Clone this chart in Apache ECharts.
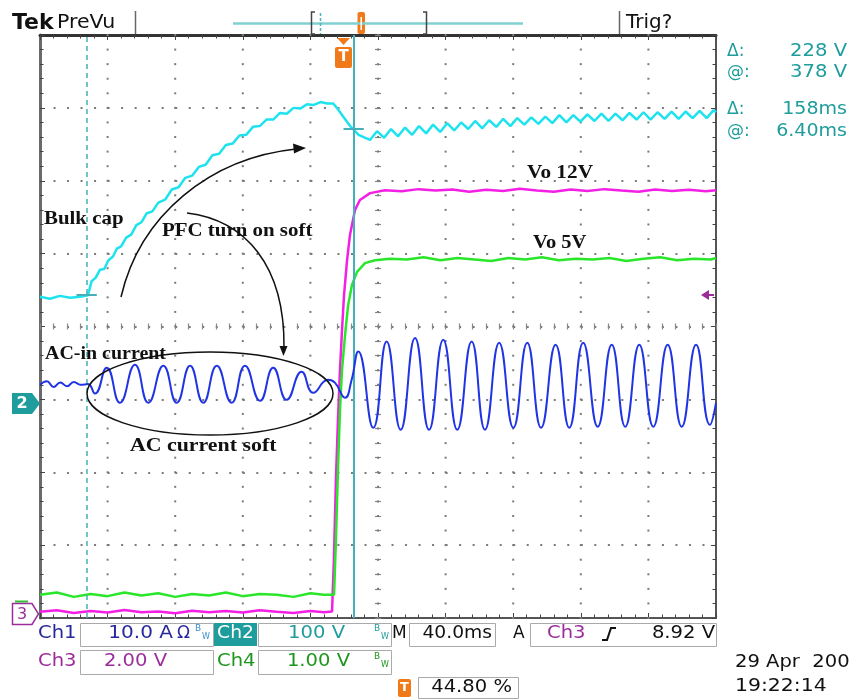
<!DOCTYPE html>
<html><head><meta charset="utf-8">
<script src="https://cdn.jsdelivr.net/npm/echarts@6/dist/echarts.min.js"></script>
<style>html,body{margin:0;padding:0;background:#fff}#c{width:857px;height:700px}</style>
</head><body><div id="c"></div>
<script>
// ---------- DATA (time in ms from left edge of screen, 40 ms/div) ----------
// Ch2: Bulk cap voltage (V), 100 V/div
const bulkT = [0, 5.9, 11.8, 17.8, 23.7, 28.4,
  30.5, 33.0, 35.5, 38.0, 40.5, 43.2, 45.5, 48.0, 51.0, 54.0, 57.0, 60.0, 63.0, 66.5, 70.0, 74.0, 78.0, 82.0, 86.0, 90.0,
  94.0, 98.0, 102.0, 106.0, 110.0, 114.0, 118.0, 122.0, 126.0, 130.0, 134.0, 138.0, 142.0, 146.0, 150.0, 154.0, 158.0,
  162.0, 166.0, 170.0, 173.5, 176.0, 178.5, 181.0, 183.5, 186.0, 188.5, 191.5,
  195.3, 199.4, 203.6, 207.7, 211.9, 216.0, 220.2, 224.3, 228.5, 232.6, 236.8, 240.9, 245.1, 249.2, 253.4, 257.5,
  261.7, 265.8, 270.0, 274.1, 278.3, 282.4, 286.6, 290.7, 294.9, 299.0, 303.2, 307.3, 311.5, 315.6, 319.8, 323.9,
  328.1, 332.2, 336.4, 340.5, 344.7, 348.8, 353.0, 357.1, 361.3, 365.4, 369.6, 373.7, 377.9, 382.0, 386.2, 390.3,
  394.5, 398.6, 400];
const bulkV = [146.8, 144.0, 148.0, 145.4, 146.8, 149.0,
  168, 173, 184, 185, 197, 202, 213, 216, 228, 232, 245, 249, 261, 264, 276, 280, 294, 297, 310, 313,
  325, 328, 341, 343, 355, 357, 368, 369, 380, 381, 390, 390, 399, 398, 406, 405, 411,
  410, 414, 412, 412, 405, 397, 389, 381, 375, 369, 366,
  362, 374, 365, 377, 367, 379, 369, 381, 371, 383, 373, 385, 375, 386, 377, 388,
  378, 389, 380, 391, 381, 392, 383, 393, 384, 394, 385, 396, 386, 396, 387, 397,
  388, 398, 388, 398, 389, 399, 390, 400, 390, 400, 391, 401, 391, 401, 392, 402,
  392, 403, 400];
// Ch1: AC input current (A), 10 A/div
const curT = [0, 4, 8, 12, 16, 20, 24, 28.4, 32.5, 39.5, 47.3, 56.2, 64.1, 73.0, 80.9, 88.8, 96.6, 104.6, 113.4,
  121.3, 130.2, 138.0, 146.0, 154.8, 161.7, 170.4, 174.5, 180.5, 184.3, 188.3, 197.2, 205.1, 213.4, 221.9, 230.2,
  238.6, 246.9, 255.4, 263.3, 271.7, 280.1, 288.3, 296.5, 305.1, 313.2, 321.4, 330.0, 338.3, 346.3, 354.6, 362.9,
  371.4, 379.7, 388.2, 396.4, 400];
const curA = [0.0, 0.5, -0.3, 0.3, -0.2, 0.4, 0.0, 0.1, -1.2, 2.33, -2.47, 2.74, -2.47, 2.61, -2.47, 2.61, -2.47, 2.61, -2.47,
  2.61, -2.19, 2.33, -2.06, 1.78, -1.10, 0.69, 0.3, -1.78, 0.6, 4.57, -5.90, 5.94, -6.17, 6.41, -6.17,
  6.17, -6.17, 5.94, -6.17, 5.76, -5.90, 5.76, -5.90, 5.49, -5.90, 5.76, -5.76, 5.49, -5.76, 5.49, -5.76,
  5.49, -5.76, 5.49, -5.49, -2.5];
// Ch3: Vo 12V (V), 2 V/div
const vo12T = [0, 10, 20, 30, 40, 50, 60, 70, 80, 90, 100, 110, 120, 130, 140, 150, 160, 168,
  172.8, 173.9, 175.1, 176.3, 177.5, 178.7, 179.9, 181.7, 183.4, 186.4, 189.3, 195.3, 204.1,
  214, 224, 234, 244, 254, 264, 274, 284, 294, 304, 314, 324, 334, 344, 354, 364, 374, 384, 394, 400];
const vo12V = [0.07, 0.11, 0.04, 0.09, 0.05, 0.12, 0.06, 0.08, 0.03, 0.10, 0.06, 0.09, 0.05, 0.11, 0.07, 0.04, 0.09, 0.06,
  0.08, 1.49, 3.69, 5.33, 6.71, 7.80, 8.76, 9.72, 10.41, 11.10, 11.37, 11.56, 11.64,
  11.61, 11.67, 11.63, 11.66, 11.60, 11.65, 11.62, 11.68, 11.63, 11.60, 11.66, 11.62, 11.67, 11.63, 11.60, 11.66, 11.62, 11.65, 11.61, 11.64];
// Ch4: Vo 5V (V), 1 V/div
const vo5T = [0, 10, 20, 30, 40, 50, 60, 70, 80, 90, 100, 110, 120, 130, 140, 150, 160, 168,
  174.0, 175.1, 176.3, 177.5, 178.7, 180.5, 182.3, 184.6, 187.6, 192.3, 198.2, 207.1,
  217, 227, 237, 247, 257, 267, 277, 287, 297, 307, 317, 327, 337, 347, 357, 367, 377, 387, 397, 400];
const vo5V = [0.02, 0.05, -0.01, 0.03, 0.00, 0.05, 0.01, 0.04, -0.01, 0.03, 0.01, 0.05, 0.00, 0.03, 0.02, -0.01, 0.04, 0.02,
  0.02, 0.77, 1.73, 2.55, 3.10, 3.58, 3.99, 4.27, 4.45, 4.57, 4.61, 4.63,
  4.62, 4.65, 4.61, 4.64, 4.62, 4.60, 4.64, 4.62, 4.65, 4.61, 4.63, 4.62, 4.64, 4.60, 4.63, 4.65, 4.61, 4.63, 4.62, 4.64];
// Cursors
const cursorT = [27.6, 185.6];   // ms (Δ 158 ms, @ 6.40 ms after trigger)
const cursorV = [150, 378];      // V  (Δ 228 V, @ 378 V)
// Graticule: vertical division lines (ms) and minor-division step (div)
const divT = [40, 80, 120, 160, 200, 240, 280, 320, 360];
const minorDiv = 0.2;
// Readouts
const readouts = ['228 V', '378 V', '158ms', '6.40ms'];
const annotations = ['Bulk cap', 'PFC turn on soft', 'AC-in current', 'AC current soft', 'Vo 12V', 'Vo 5V'];

// ---------- CHART ----------
const zip = (a, b) => a.map((v, i) => [v, b[i]]);
const TEAL = '#1f9c9c', ORANGE = '#f07a1a', MAG = '#9b2d9b', NAVY = '#27279c', GRN = '#1e961e';
const FONT = 'DejaVu Sans', SERIF = 'Liberation Serif';
function tx(x, y, text, o) {
  o = o || {};
  return { type: 'text', x: x, y: y, scaleX: o.sx || 1, z: 100, silent: true,
    style: { text: text, fill: o.c || '#111', fontSize: o.fs || 17, fontFamily: o.ff || FONT,
      fontWeight: o.fw || 'normal', align: o.al || 'left', verticalAlign: 'middle' } };
}
function ln(x1, y1, x2, y2, c, w, dash) {
  return { type: 'line', z: 100, silent: true, shape: { x1, y1, x2, y2 },
    style: { stroke: c, lineWidth: w || 1.5, lineDash: dash || null } };
}
function box(x, y, w, h, o) {
  o = o || {};
  return { type: 'rect', z: o.z || 99, silent: true, shape: { x, y, width: w, height: h, r: o.r || 0 },
    style: { fill: o.fill || 'none', stroke: o.stroke || null, lineWidth: o.lw || 1 } };
}
const tickStyle = { color: '#444', width: 1 };
function xa(extra) {
  return Object.assign({ type: 'value', min: 0, max: 400, interval: 40,
    axisLabel: { show: false }, splitLine: { show: false }, axisTick: { show: false },
    axisLine: { show: false, onZero: false } }, extra);
}
function ya(extra) {
  return Object.assign({ type: 'value', min: 0, max: 8, interval: 1,
    axisLabel: { show: false }, splitLine: { show: false }, axisTick: { show: false },
    axisLine: { show: false, onZero: false } }, extra);
}

const graphics = [
  // header
  tx(12, 23, 'Tek', { fs: 22, fw: 'bold' }),
  tx(57, 23, 'PreVu', { fs: 19, sx: 1.08 }),
  ln(135.5, 11, 135.5, 34, '#666', 1.5),
  ln(233, 23.5, 523, 23.5, '#80d0d0', 2.5),
  { type: 'polyline', z: 100, silent: true, shape: { points: [[315, 12], [311.5, 12], [311.5, 34], [315, 34]] }, style: { stroke: '#444', lineWidth: 1.5, fill: 'none' } },
  { type: 'polyline', z: 100, silent: true, shape: { points: [[423, 12], [426.5, 12], [426.5, 34], [423, 34]] }, style: { stroke: '#444', lineWidth: 1.5, fill: 'none' } },
  ln(320.5, 13, 320.5, 34, '#4ab3bd', 1.5, [3, 2]),
  box(357.5, 12, 7.5, 22, { fill: ORANGE, r: 2 }),
  ln(361.2, 17, 361.2, 30, '#fff', 1.5),
  ln(619.5, 11, 619.5, 34, '#666', 1.5),
  tx(626, 23, 'Trig?', { fs: 19, sx: 1.05 }),
  // right readouts
  tx(727, 52, 'Δ:', { c: TEAL }), tx(847, 52, readouts[0], { c: TEAL, al: 'right', sx: 1.15 }),
  tx(727, 73, '@:', { c: TEAL }), tx(847, 73, readouts[1], { c: TEAL, al: 'right', sx: 1.15 }),
  tx(727, 110, 'Δ:', { c: TEAL }), tx(847, 110, readouts[2], { c: TEAL, al: 'right', sx: 1.12 }),
  tx(727, 132, '@:', { c: TEAL }), tx(847, 132, readouts[3], { c: TEAL, al: 'right', sx: 1.12 }),
  // trigger position marker
  { type: 'polygon', z: 100, silent: true, shape: { points: [[337, 38], [350, 38], [343.5, 45]] }, style: { fill: ORANGE } },
  box(335, 47, 17, 21, { fill: ORANGE, r: 2 }),
  tx(343.5, 57.5, 'T', { fs: 15, fw: 'bold', c: '#fff', al: 'center' }),
  // ground markers
  { type: 'polygon', z: 100, silent: true, shape: { points: [[12, 393], [32, 393], [40, 403.5], [32, 414], [12, 414]] }, style: { fill: TEAL } },
  tx(22, 404, '2', { fs: 16, fw: 'bold', c: '#fff', al: 'center' }),
  ln(15, 601.5, 28, 601.5, '#2fbf2f', 2),
  { type: 'polygon', z: 100, silent: true, shape: { points: [[12.5, 603.5], [32, 603.5], [38.5, 614], [32, 624.5], [12.5, 624.5]] }, style: { fill: '#fff', stroke: MAG, lineWidth: 1.5 } },
  tx(22, 614.5, '3', { fs: 16, c: MAG, al: 'center' }),
  // trigger level arrow
  { type: 'polygon', z: 100, silent: true, shape: { points: [[701, 295], [709, 290], [709, 300]] }, style: { fill: MAG } },
  ln(708, 295, 714, 295, MAG, 2),
  // annotations
  tx(44, 219, annotations[0], { ff: SERIF, fw: 'bold', fs: 19, sx: 1.1 }),
  tx(162, 231, annotations[1], { ff: SERIF, fw: 'bold', fs: 19, sx: 1.1 }),
  tx(45, 354, annotations[2], { ff: SERIF, fw: 'bold', fs: 19, sx: 1.05 }),
  tx(130, 446, annotations[3], { ff: SERIF, fw: 'bold', fs: 19, sx: 1.15 }),
  tx(527, 173, annotations[4], { ff: SERIF, fw: 'bold', fs: 19, sx: 1.12 }),
  tx(533, 243, annotations[5], { ff: SERIF, fw: 'bold', fs: 19, sx: 1.08 }),
  { type: 'bezierCurve', z: 100, silent: true, shape: { x1: 121, y1: 297, cpx1: 140, cpy1: 215, cpx2: 210, cpy2: 158, x2: 296, y2: 149 }, style: { stroke: '#111', lineWidth: 1.5, fill: 'none' } },
  { type: 'polygon', z: 100, silent: true, shape: { points: [[306, 148], [293, 143.5], [294, 153.5]] }, style: { fill: '#111' } },
  { type: 'bezierCurve', z: 100, silent: true, shape: { x1: 187, y1: 213, cpx1: 245, cpy1: 220, cpx2: 285, cpy2: 265, x2: 284, y2: 348 }, style: { stroke: '#111', lineWidth: 1.5, fill: 'none' } },
  { type: 'polygon', z: 100, silent: true, shape: { points: [[283.5, 356], [279.5, 346], [287.5, 346]] }, style: { fill: '#111' } },
  { type: 'ellipse', z: 100, silent: true, shape: { cx: 210, cy: 393.5, rx: 123, ry: 41.5 }, style: { stroke: '#111', lineWidth: 1.5, fill: 'none' } },
  // bottom readouts row 1
  tx(38, 634, 'Ch1', { c: NAVY, sx: 1.15 }),
  box(80.5, 623.5, 133, 23, { stroke: '#aaa' }),
  tx(173, 634, '10.0 A', { c: NAVY, al: 'right', sx: 1.18 }),
  tx(177, 634, 'Ω', { c: NAVY }),
  tx(195, 629, 'B', { c: '#3a8fd0', fs: 9 }), tx(202, 637, 'W', { c: '#3a8fd0', fs: 8 }),
  box(214, 623, 43, 23, { fill: TEAL }),
  tx(235.5, 634, 'Ch2', { c: '#fff', al: 'center', sx: 1.1 }),
  box(258.5, 623.5, 133, 23, { stroke: '#aaa' }),
  tx(345, 634, '100 V', { c: TEAL, al: 'right', sx: 1.15 }),
  tx(374, 629, 'B', { c: TEAL, fs: 9 }), tx(381, 637, 'W', { c: TEAL, fs: 8 }),
  tx(392, 634, 'M', { c: '#111' }),
  box(409.5, 623.5, 86, 23, { stroke: '#aaa' }),
  tx(492, 634, '40.0ms', { al: 'right', sx: 1.1 }),
  tx(513, 634, 'A', { c: '#111' }),
  box(530.5, 623.5, 186, 23, { stroke: '#aaa' }),
  tx(547, 634, 'Ch3', { c: MAG, sx: 1.15 }),
  { type: 'polyline', z: 100, silent: true, shape: { points: [[602, 640], [607, 640], [611, 628], [616, 628]] }, style: { stroke: '#111', lineWidth: 2, fill: 'none' } },
  tx(715, 634, '8.92 V', { al: 'right', sx: 1.15 }),
  // row 2
  tx(38, 662, 'Ch3', { c: MAG, sx: 1.15 }),
  box(80.5, 650.5, 133, 24, { stroke: '#aaa' }),
  tx(167, 662, '2.00 V', { c: MAG, al: 'right', sx: 1.15 }),
  tx(217, 662, 'Ch4', { c: GRN, sx: 1.15 }),
  box(258.5, 650.5, 133, 24, { stroke: '#aaa' }),
  tx(350, 662, '1.00 V', { c: GRN, al: 'right', sx: 1.15 }),
  tx(374, 657, 'B', { c: GRN, fs: 9 }), tx(381, 665, 'W', { c: GRN, fs: 8 }),
  // row 3
  box(398, 679, 13, 18, { fill: ORANGE, r: 2 }),
  tx(404.5, 688, 'T', { fs: 13, fw: 'bold', c: '#fff', al: 'center' }),
  box(418.5, 677.5, 100, 21, { stroke: '#aaa' }),
  tx(512, 688, '44.80 %', { al: 'right', sx: 1.15 }),
  tx(735, 663, '29 Apr  200', { sx: 1.15 }),
  tx(735, 687, '19:22:14', { sx: 1.2 })
];

const option = {
  animation: false,
  backgroundColor: '#fff',
  grid: { left: 40, top: 35, width: 676, height: 583, containLabel: false, outerBoundsMode: 'none', show: false },
  xAxis: [
    xa({ position: 'bottom', axisLine: { show: true, onZero: false, lineStyle: { color: '#555', width: 2 } },
      axisTick: { show: true, inside: true, length: 5, lineStyle: tickStyle },
      minorTick: { show: true, splitNumber: 5, length: 3.5, lineStyle: tickStyle } }),
    xa({ position: 'top', axisLine: { show: true, onZero: false, lineStyle: { color: '#333', width: 3 } },
      axisTick: { show: true, inside: true, length: 5, lineStyle: tickStyle },
      minorTick: { show: true, splitNumber: 5, length: 3.5, lineStyle: tickStyle } }),
    xa({ position: 'bottom', offset: -294.5,
      axisTick: { show: true, inside: false, length: 6, lineStyle: { color: '#888', width: 1.2 } },
      minorTick: { show: true, splitNumber: 5, length: 6, lineStyle: { color: '#888', width: 1.2 } } })
  ],
  yAxis: [
    ya({ position: 'left', axisLine: { show: true, onZero: false, lineStyle: { color: '#6a6a6a', width: 3 } },
      axisTick: { show: true, inside: true, length: 5, lineStyle: tickStyle },
      minorTick: { show: true, splitNumber: 5, length: 3.5, lineStyle: tickStyle },
      splitLine: { show: true, lineStyle: { color: '#7a7a7a', width: 2, type: [2, 11.52] } } }),
    ya({ position: 'right', axisLine: { show: true, onZero: false, lineStyle: { color: '#555', width: 2 } },
      axisTick: { show: true, inside: true, length: 5, lineStyle: tickStyle },
      minorTick: { show: true, splitNumber: 5, length: 3.5, lineStyle: tickStyle } }),
    ya({ position: 'left', offset: -341,
      axisTick: { show: true, inside: false, length: 6, lineStyle: { color: '#888', width: 1.2 } },
      minorTick: { show: true, splitNumber: 5, length: 6, lineStyle: { color: '#888', width: 1.2 } } }),
    { type: 'value', show: false, min: -32, max: 48 },      // Ch1 A
    { type: 'value', show: false, min: -294, max: 506 },    // Ch2 V
    { type: 'value', show: false, min: -0.1, max: 15.9 },   // Ch3 V
    { type: 'value', show: false, min: -0.3, max: 7.7 }     // Ch4 V
  ],
  series: [
    { name: 'Ch3 Vo 12V', type: 'line', xAxisIndex: 0, yAxisIndex: 5, data: zip(vo12T, vo12V),
      showSymbol: false, symbol: 'none', lineStyle: { color: '#f41fe4', width: 2.5 }, z: 3 },
    { name: 'Ch4 Vo 5V', type: 'line', xAxisIndex: 0, yAxisIndex: 6, data: zip(vo5T, vo5V),
      showSymbol: false, symbol: 'none', lineStyle: { color: '#2ae62a', width: 2.5 }, z: 3 },
    { name: 'Ch2 Bulk cap', type: 'line', xAxisIndex: 0, yAxisIndex: 4, data: zip(bulkT, bulkV),
      showSymbol: false, symbol: 'none', lineStyle: { color: '#1ee3ef', width: 2.5 }, z: 4,
      markLine: { silent: true, symbol: ['none', 'none'], label: { show: false }, animation: false,
        lineStyle: { color: '#45b0ba', width: 2, type: 'solid' },
        emphasis: { disabled: true },
        data: [
          { xAxis: cursorT[0], lineStyle: { type: [5, 4], width: 1.5 } },
          { xAxis: cursorT[1] },
          [{ coord: [cursorT[0] - 6, cursorV[0]] }, { coord: [cursorT[0] + 6, cursorV[0]] }],
          [{ coord: [cursorT[1] - 6, cursorV[1]] }, { coord: [cursorT[1] + 6, cursorV[1]] }]
        ] } },
    { name: 'Ch1 AC-in current', type: 'line', xAxisIndex: 0, yAxisIndex: 3, data: zip(curT, curA),
      showSymbol: false, symbol: 'none', smooth: 0.5, lineStyle: { color: '#2034e4', width: 2 }, z: 5 }
  ],
  graphic: graphics
};
const chart = echarts.init(document.getElementById('c'));
chart.setOption(option);

// vertical graticule lines as dots, placed through the axes' own scales
const dots = [];
divT.forEach(function (t) {
  const px = chart.convertToPixel({ xAxisIndex: 0 }, t);
  for (let k = 0; k <= 40; k++) {
    const py = chart.convertToPixel({ yAxisIndex: 0 }, k * minorDiv);
    dots.push({ type: 'rect', z: 1, silent: true, shape: { x: px - 1, y: py - 1, width: 2, height: 2 }, style: { fill: '#7a7a7a' } });
  }
});
chart.setOption({ graphic: { elements: graphics.concat(dots) } });
</script>
</body></html>
